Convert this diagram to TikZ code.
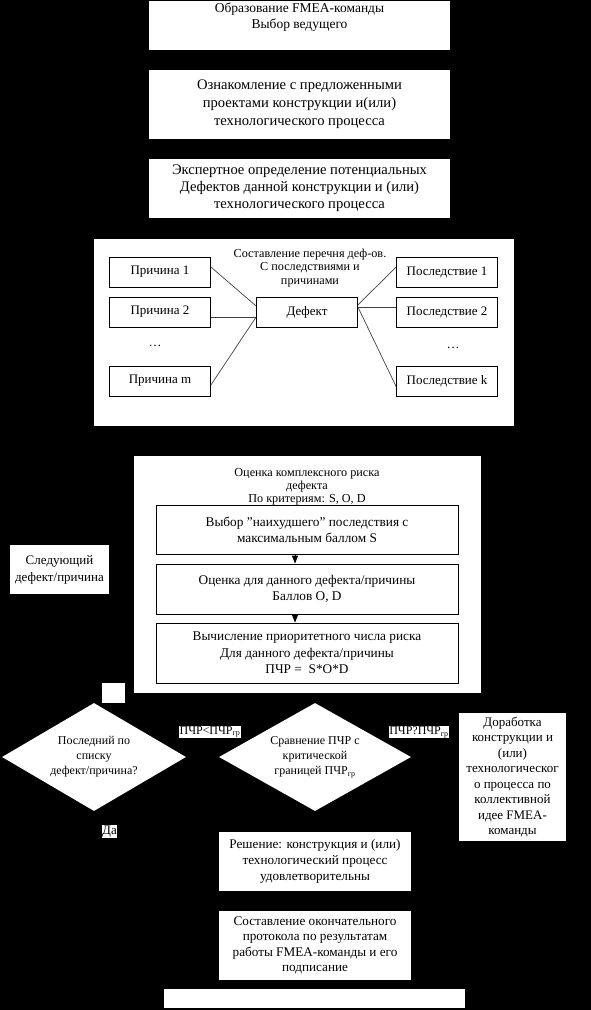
\documentclass[tikz,border=0pt]{standalone}
\usepackage{fontspec}
\setmainfont{Liberation Serif}
\usetikzlibrary{shapes.geometric,arrows.meta}
\begin{document}
\begin{tikzpicture}[x=1pt,y=-1pt,
	box/.style={fill=white,inner sep=1pt,align=center},
	inbox/.style={box,draw=black,line width=0.8pt},
	fs/.style 2 args={font=\fontsize{#1}{#2}\selectfont},
	link/.style={black!75,line width=0.7pt},
	decide/.style={box,diamond,aspect=1.7,inner sep=1pt,fs={12}{15}}]
	\fill[black] (0,0) rectangle (591,1010);
	\node[box,fs={13.5}{15.5},minimum width=301,minimum height=49] (form) at (299.5,25.5) {Образование FMEA-команды\\Выбор ведущего\\\strut};
	\node[box,fs={14.6}{18},minimum width=301,minimum height=69] (intro) at (299.5,104.5) {Ознакомление с предложенными\\проектами конструкции и(или)\\технологического процесса};
	\node[box,fs={14.6}{17},minimum width=301,minimum height=59] (expert) at (299.5,188.5) {Экспертное определение потенциальных\\Дефектов данной конструкции и (или)\\технологического процесса};
	\node[box,minimum width=420,minimum height=187] (list) at (304,332.5) {};
	\node[align=center,fs={12.2}{13.5},inner sep=0pt] (listtitle) at (310,268) {Составление перечня деф-ов.\\С последствиями и\\причинами};
	\node[inbox,fs={13}{15},minimum width=101,minimum height=30] (c1) at (160,272) {Причина 1};
	\node[inbox,fs={13}{15},minimum width=101,minimum height=30] (c2) at (160,312) {Причина 2};
	\node[fs={13}{15},inner sep=0pt] (cdots) at (155,346) {\dots};
	\node[inbox,fs={13}{15},minimum width=101,minimum height=30] (cm) at (160,381) {Причина m};
	\node[inbox,fs={13}{15},minimum width=101,minimum height=30] (def) at (307,312) {Дефект};
	\node[inbox,fs={13}{15},minimum width=101,minimum height=30] (e1) at (447,272) {Последствие 1};
	\node[inbox,fs={13}{15},minimum width=101,minimum height=30] (e2) at (447,312) {Последствие 2};
	\node[fs={13}{15},inner sep=0pt] (edots) at (453,348) {\dots};
	\node[inbox,fs={13}{15},minimum width=101,minimum height=30] (ek) at (447,381.5) {Последствие k};
	\draw[link] ([yshift=5pt]c1.east) -- ([yshift=6pt]def.west);
	\draw[link] ([yshift=-5pt]c2.east) -- ([yshift=-5pt]def.west);
	\draw[link] ([yshift=-4pt]cm.east) -- ([yshift=-5pt]def.west);
	\draw[link] ([yshift=7pt]def.east) -- ([yshift=5pt]e1.west);
	\draw[link] ([yshift=5pt]def.east) -- ([yshift=5pt]e2.west);
	\draw[link] ([yshift=5pt]def.east) -- ([yshift=-5pt]ek.west);
	\node[box,minimum width=347,minimum height=237] (risk) at (307.5,574.5) {};
	\node[align=center,fs={12.2}{13},inner sep=0pt] (risktitle) at (307,487) {Оценка комплексного риска\\дефекта\\По критериям: S, O, D};
	\node[inbox,fs={13.3}{16},minimum width=302,minimum height=49] (worst) at (307,529.5) {Выбор "наихудшего" последствия с\\максимальным баллом S};
	\node[inbox,fs={13.3}{16},minimum width=302,minimum height=50] (score) at (307,589) {Оценка для данного дефекта/причины\\Баллов O, D};
	\node[inbox,fs={13.3}{16.5},minimum width=302,minimum height=60] (rpn) at (307,653) {Вычисление приоритетного числа риска\\Для данного дефекта/причины\\ПЧР =\ \ S*O*D};
	\draw[-{Triangle[width=6pt,length=8pt]},line width=0.8pt] ([xshift=-12pt]worst.south) -- ([xshift=-12pt]score.north);
	\draw[-{Triangle[width=6pt,length=8pt]},line width=0.8pt] ([xshift=-12pt]score.south) -- ([xshift=-12pt]rpn.north);
	\node[box,fs={13}{17},minimum width=99,minimum height=49] (next) at (59.5,569.5) {Следующий\\дефект/причина};
	\node[box,minimum width=23,minimum height=20] (join) at (113.5,693) {};
	\node[decide,minimum width=184,minimum height=108] (last) at (94,757) {Последний по\\списку\\дефект/причина?};
	\node[decide,minimum width=192,minimum height=108] (compare) at (315,757) {Сравнение ПЧР с\\критической\\границей ПЧР\textsubscript{гр}};
	\node[box,fs={12}{14},inner sep=0.5pt] (less) at (210,732) {ПЧР<ПЧР\textsubscript{гр}};
	\node[box,fs={12}{14},inner sep=0.5pt] (more) at (419,732) {ПЧР?ПЧР\textsubscript{гр}};
	\node[box,fs={13}{15.5},minimum width=107,minimum height=128] (rework) at (512.5,777) {Доработка\\конструкции и\\(или)\\технологическог\\о процесса по\\коллективной\\идее FMEA-\\команды};
	\node[box,fs={13}{15},inner sep=0.5pt] (yes) at (109.5,831.5) {Да};
	\node[box,fs={13.2}{16},minimum width=192,minimum height=59] (okay) at (315,861.5) {Решение: конструкция и (или)\\технологический процесс\\удовлетворительны};
	\node[box,fs={13.2}{15.5},minimum width=192,minimum height=69] (final) at (315,945.5) {Составление окончательного\\протокола по результатам\\работы FMEA-команды и его\\подписание};
	\node[box,minimum width=301,minimum height=19] (bar) at (314.5,998.5) {};
\end{tikzpicture}
\end{document}
